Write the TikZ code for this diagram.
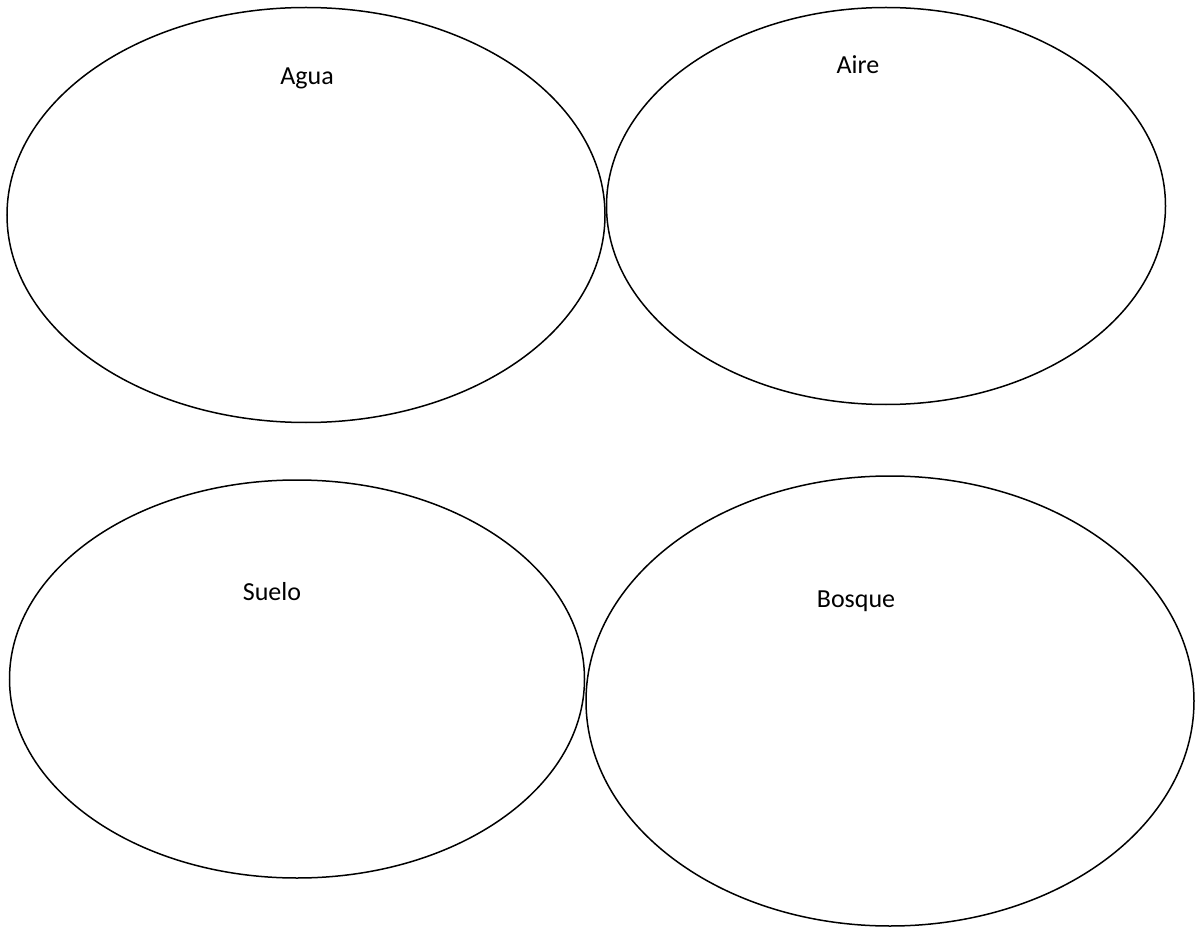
\documentclass[tikz,border=0pt]{standalone}
\usepackage{fontspec}
\setmainfont{Carlito}
\usetikzlibrary{shapes.geometric}

\tikzset{
  zone/.style={ellipse, draw, line width=1.5pt, inner sep=0pt},
  zonelabel/.style={font=\fontsize{26}{30}\selectfont, anchor=base}
}

\begin{document}
\begin{tikzpicture}[x=1pt, y=-1pt]
\useasboundingbox (0,0) rectangle (1195,928);

% Ovals
\node[zone, minimum width=598pt, minimum height=415pt] (agua) at (306,215) {};
\node[zone, minimum width=559pt, minimum height=397pt] (aire) at (886,206) {};
\node[zone, minimum width=575pt, minimum height=398pt] (suelo) at (297,679) {};
\node[zone, minimum width=608pt, minimum height=450pt] (bosque) at (890,701) {};

% Labels
\node[zonelabel] (tagua) at (307,85) {Agua};
\node[zonelabel] (taire) at (858,74) {Aire};
\node[zonelabel] (tsuelo) at (272,600) {Suelo};
\node[zonelabel] (tbosque) at (856,607) {Bosque};

\end{tikzpicture}
\end{document}
